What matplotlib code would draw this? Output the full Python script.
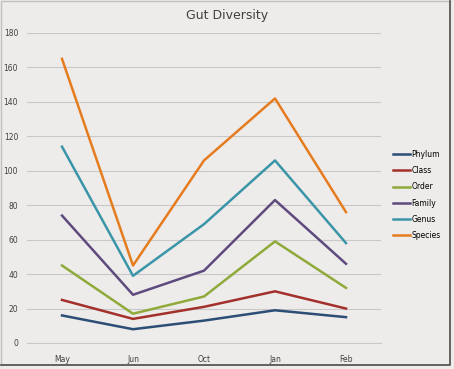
import matplotlib.pyplot as plt
import numpy as np

months = ['May', 'Jun', 'Oct', 'Jan', 'Feb']
phylum = [16, 8, 13, 19, 15]
klass = [25, 14, 21, 30, 20]
order = [45, 17, 27, 59, 32]
family = [74, 28, 42, 83, 46]
genus = [114, 39, 69, 106, 58]
species = [165, 45, 106, 142, 76]

series = [('Phylum', phylum, '#2c4d75'),
          ('Class', klass, '#a3302b'),
          ('Order', order, '#8faa3a'),
          ('Family', family, '#5f4a7e'),
          ('Genus', genus, '#3a95a8'),
          ('Species', species, '#e57c1f')]

W, H = 454, 369
bg = '#eeecea'
fig = plt.figure(figsize=(W/100, H/100), dpi=100, facecolor=bg)
ax = fig.add_axes([26.5/W, 1-343/H, 355/W, 310/H], facecolor=bg)

x = np.arange(len(months))
for name, vals, col in series:
    ax.plot(x, vals, color=col, lw=1.8, label=name)

ax.set_xlim(-0.5, len(months) - 0.5)
ax.set_ylim(0, 180)
ax.set_yticks(range(0, 181, 20))
ax.set_xticks(x)
ax.set_xticklabels(months)
ax.tick_params(length=0, labelsize=5.5, colors='#404040')
ax.tick_params(axis='y', pad=6)
ax.tick_params(axis='x', pad=9)
ax.grid(axis='y', color='#c8c8c8', lw=0.8)
ax.set_axisbelow(True)
for s in ['top', 'right', 'left']:
    ax.spines[s].set_visible(False)
ax.spines['bottom'].set_color('#c8c8c8')

fig.text(0.5, 1-15/H, 'Gut Diversity', ha='center', va='center', fontsize=9, color='#404040')

ax.legend(loc='center left', bbox_to_anchor=(390/W, 1-195/H), bbox_transform=fig.transFigure,
          frameon=False, fontsize=5.5, handlelength=2.2, handletextpad=0.2, labelspacing=0.95,
          borderaxespad=0)

# image frame (light top/left, dark right/bottom)
fig.add_artist(plt.Line2D([1/W, 1/W, 450/W], [4/H, 1-1/H, 1-1/H], transform=fig.transFigure,
                          color='#c0c0c0', lw=1))
fig.add_artist(plt.Line2D([450/W, 450/W, 1/W], [1-1/H, 4/H, 4/H], transform=fig.transFigure,
                          color='#4a4a4a', lw=1.2))

fig.savefig('out.png', dpi=100, facecolor=bg)
